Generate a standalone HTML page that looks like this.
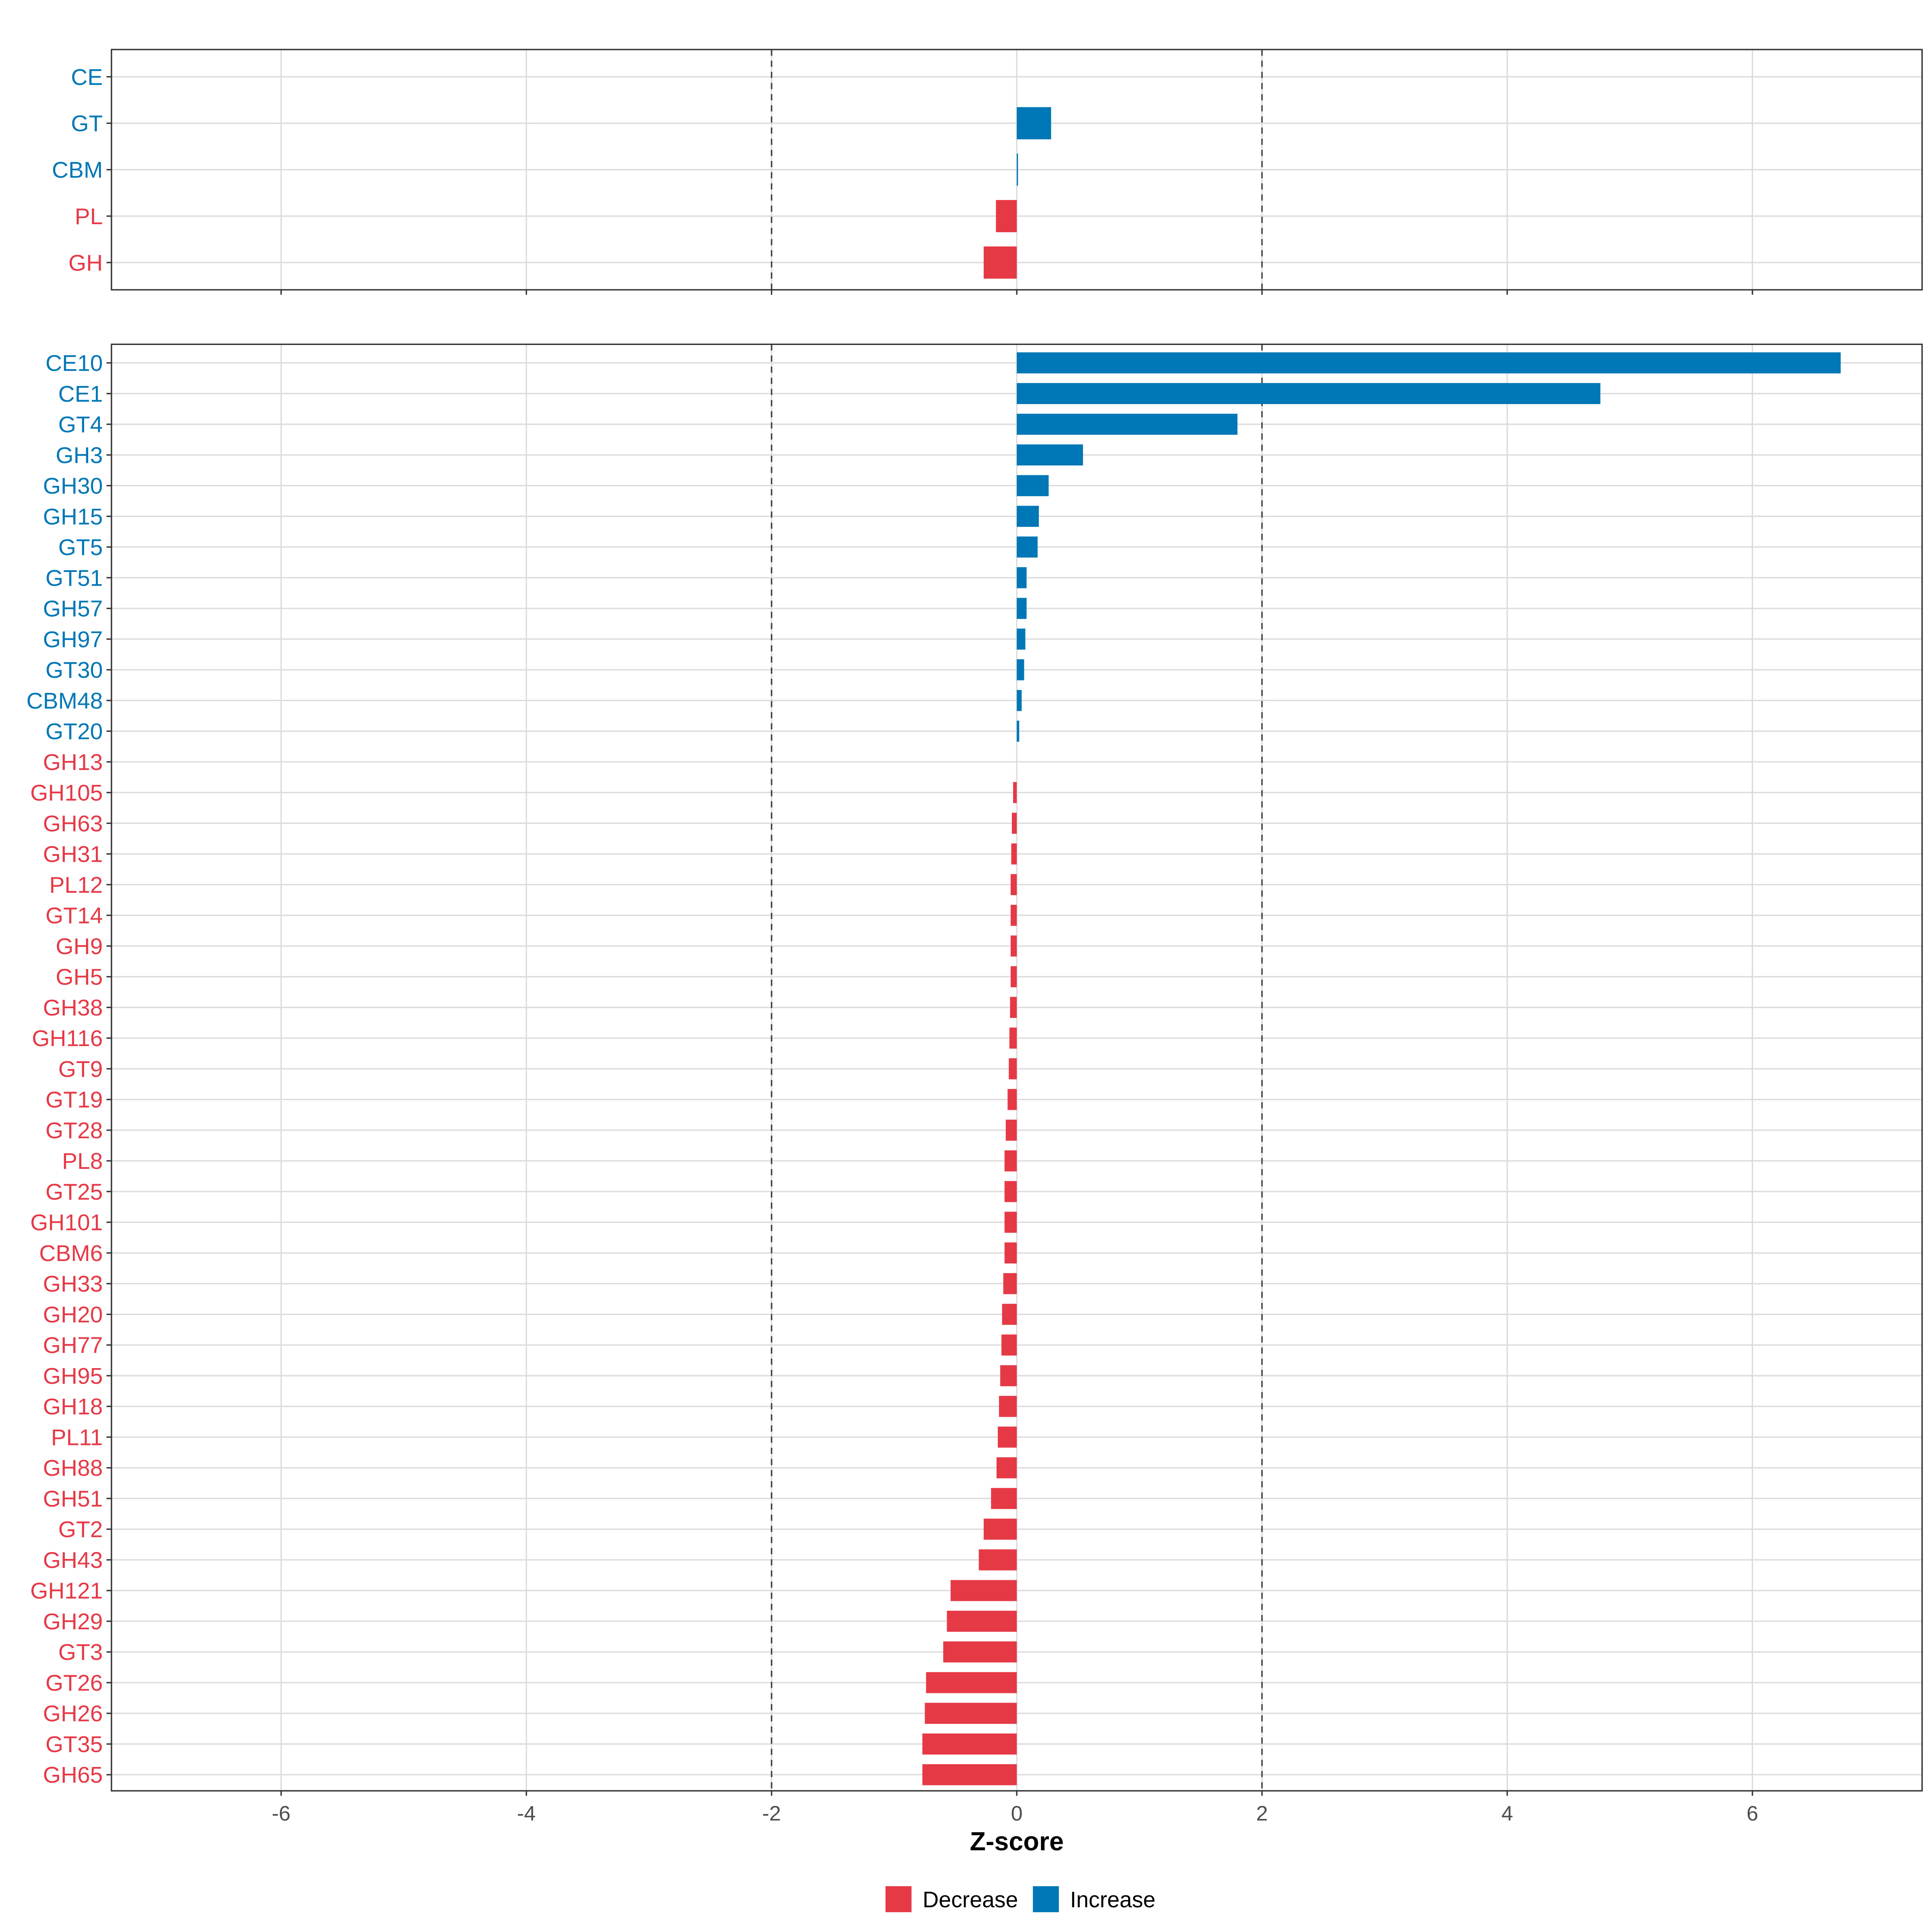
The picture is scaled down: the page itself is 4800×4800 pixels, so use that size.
<!DOCTYPE html>
<html><head><meta charset="utf-8"><style>html,body{margin:0;padding:0;background:#fff}svg{display:block}</style></head>
<body>
<svg id="chart" xmlns="http://www.w3.org/2000/svg" width="4800" height="4800" viewBox="0 0 1560 1560" font-family="'Liberation Sans', sans-serif"></svg>
<script>
const topCats = ["CE","GT","CBM","PL","GH"];
const topVals = [0, 0.28, 0.01, -0.17, -0.27];
const botCats = ["CE10","CE1","GT4","GH3","GH30","GH15","GT5","GT51","GH57","GH97","GT30","CBM48","GT20","GH13","GH105","GH63","GH31","PL12","GT14","GH9","GH5","GH38","GH116","GT9","GT19","GT28","PL8","GT25","GH101","CBM6","GH33","GH20","GH77","GH95","GH18","PL11","GH88","GH51","GT2","GH43","GH121","GH29","GT3","GT26","GH26","GT35","GH65"];
const botVals = [6.72,4.76,1.80,0.54,0.26,0.18,0.17,0.08,0.08,0.07,0.06,0.04,0.02,0,-0.03,-0.04,-0.045,-0.05,-0.05,-0.05,-0.05,-0.055,-0.06,-0.065,-0.075,-0.09,-0.1,-0.1,-0.1,-0.1,-0.11,-0.12,-0.125,-0.135,-0.145,-0.155,-0.165,-0.21,-0.27,-0.31,-0.54,-0.57,-0.6,-0.74,-0.75,-0.77,-0.77];
const xTicks = [-6,-4,-2,0,2,4,6];
const refLines = [-2, 2];

const RED="#E63946", BLUE="#0077B6";
const svg=document.getElementById('chart');
const NS="http://www.w3.org/2000/svg";
function el(t,a,p){const e=document.createElementNS(NS,t);for(const k in a)e.setAttribute(k,a[k]);(p||svg).appendChild(e);return e;}
const X0=90,X1=1552;
function xs(v){return 821+v*99;}

function panel(name,cats,vals,y0,y1,first,step,barH,showLabels){
  const g=el('g',{});
  
  
  xTicks.forEach(t=>{const l=el('line',{x1:xs(t),x2:xs(t),y1:y0,y2:y1,stroke:'#dcdcdc','stroke-width':1.1},g);
    });
  cats.forEach((c,i)=>{const y=first+i*step;
    const l=el('line',{x1:X0,x2:X1,y1:y,y2:y,stroke:'#dcdcdc','stroke-width':1.1},g);
    });
  refLines.forEach(r=>{const l=el('line',{x1:xs(r),x2:xs(r),y1:y0,y2:y1,stroke:'#444','stroke-width':1.2,'stroke-dasharray':'5,4'},g);
    });
  cats.forEach((c,i)=>{const y=first+i*step;const v=vals[i];
    const col=v>0?BLUE:RED;
    const x=Math.min(xs(0),xs(v)),w=Math.abs(xs(v)-xs(0));
    const r=el('rect',{x:x,y:y-barH/2,width:w,height:barH,fill:col},g);
    
    const tk=el('line',{x1:X0-4,x2:X0,y1:y,y2:y,stroke:'#333','stroke-width':1.1},g);
    
    const lcol = v>0?BLUE:(v<0?RED:(cats===topCats?BLUE:RED));
    const t=el('text',{x:X0-7,y:y+6.5,'text-anchor':'end','font-size':18.5,fill:lcol},g);
    t.textContent=c;
  });
  const b=el('rect',{x:X0,y:y0,width:X1-X0,height:y1-y0,fill:'none',stroke:'#333','stroke-width':1.1},g);
  
  xTicks.forEach(t=>{const l=el('line',{x1:xs(t),x2:xs(t),y1:y1,y2:y1+4,stroke:'#333','stroke-width':1.1},g);
    
    if(showLabels){const tx=el('text',{x:xs(t),y:y1+24,'text-anchor':'middle','font-size':17,fill:'#4d4d4d'},g);
      tx.textContent=String(t);}
  });
}
panel('top-panel',topCats,topVals,40,234,62,37.5,26,false);
panel('bottom-panel',botCats,botVals,278,1446,293,(1433-293)/46,17,true);

const tt=el('text',{x:821,y:1494,'text-anchor':'middle','font-size':21,'font-weight':'bold',fill:'#000'});
tt.textContent='Z-score';
const lg=el('g',{});
const r1=el('rect',{x:715,y:1523,width:21,height:21,fill:RED},lg);
const t1=el('text',{x:745,y:1540,'font-size':18,fill:'#000'},lg);t1.textContent='Decrease';
const r2=el('rect',{x:834,y:1523,width:21,height:21,fill:BLUE},lg);
const t2=el('text',{x:864,y:1540,'font-size':18,fill:'#000'},lg);t2.textContent='Increase';
</script>
</body></html>
